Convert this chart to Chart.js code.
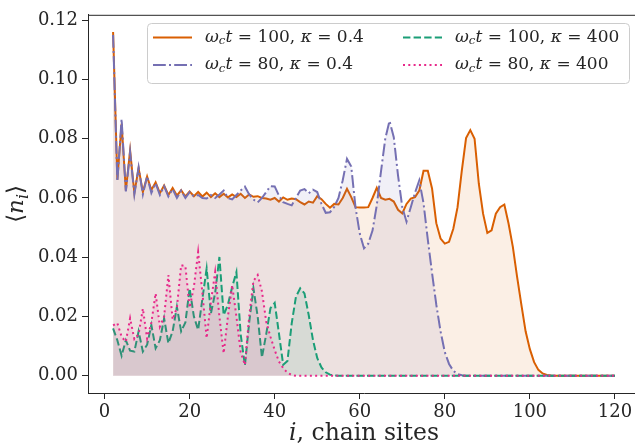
<!DOCTYPE html>
<html>
<head>
<meta charset="utf-8">
<script src="https://cdn.jsdelivr.net/npm/chart.js@4.4.1/dist/chart.umd.min.js"></script>
<style>
  html, body { margin: 0; padding: 0; background: #fff; overflow: hidden; }
  #wrap { position: relative; width: 700px; height: 446px; }
</style>
</head>
<body>
<div id="wrap"><canvas id="densChart"></canvas></div>
<script>
// chain sites i = 2 .. 120
const sites = [2,3,4,5,6,7,8,9,10,11,12,13,14,15,16,17,18,19,20,21,22,23,24,25,26,27,28,29,30,31,
  32,33,34,35,36,37,38,39,40,41,42,43,44,45,46,47,48,49,50,51,52,53,54,55,56,57,58,59,60,61,
  62,63,64,65,66,67,68,69,70,71,72,73,74,75,76,77,78,79,80,81,82,83,84,85,86,87,88,89,90,91,
  92,93,94,95,96,97,98,99,100,101,102,103,104,105,106,107,108,109,110,111,112,113,114,115,116,117,118,119,120];

// <n_i>, wc t = 100, kappa = 0.4
const t100k04 = [0.1160,0.0662,0.0850,0.0625,0.0760,0.0617,0.0700,0.0620,0.0672,0.0627,
  0.0653,0.0616,0.0642,0.0610,0.0634,0.0608,0.0626,0.0605,0.0622,0.0606,
  0.0620,0.0605,0.0618,0.0603,0.0616,0.0603,0.0614,0.0602,0.0612,0.0603,
  0.0614,0.0600,0.0612,0.0604,0.0606,0.0600,0.0598,0.0594,0.0600,0.0588,
  0.0602,0.0594,0.0598,0.0596,0.0586,0.0578,0.0588,0.0584,0.0606,0.0596,
  0.0580,0.0567,0.0580,0.0578,0.0600,0.0631,0.0603,0.0569,0.0568,0.0568,
  0.0569,0.0600,0.0634,0.0600,0.0594,0.0597,0.0588,0.0560,0.0548,0.0580,
  0.0598,0.0603,0.0625,0.0692,0.0692,0.0632,0.0515,0.0463,0.0446,0.0452,
  0.0496,0.0569,0.0692,0.0802,0.0829,0.0800,0.0648,0.0547,0.0482,0.0491,
  0.0547,0.0569,0.0578,0.0513,0.0435,0.0334,0.0240,0.0150,0.0090,0.0046,
  0.0020,0.0008,0.0003,0.0001,0,0,0,0,0,0,
  0,0,0,0,0,0,0,0,0];

// <n_i>, wc t = 80, kappa = 0.4
const t80k04 = [0.1150,0.0655,0.0866,0.0622,0.0755,0.0612,0.0704,0.0612,0.0673,0.0617,
  0.0650,0.0610,0.0640,0.0605,0.0630,0.0600,0.0625,0.0600,0.0620,0.0605,
  0.0610,0.0600,0.0598,0.0610,0.0600,0.0612,0.0625,0.0600,0.0595,0.0610,
  0.0625,0.0638,0.0612,0.0595,0.0585,0.0600,0.0620,0.0640,0.0639,0.0608,
  0.0586,0.0580,0.0575,0.0600,0.0625,0.0630,0.0616,0.0628,0.0620,0.0580,
  0.0550,0.0552,0.0570,0.0600,0.0660,0.0732,0.0706,0.0569,0.0480,0.0430,
  0.0446,0.0490,0.0575,0.0690,0.0800,0.0860,0.0805,0.0676,0.0569,0.0520,
  0.0569,0.0618,0.0659,0.0582,0.0460,0.0347,0.0240,0.0150,0.0080,0.0040,
  0.0017,0.0006,0.0002,0,0,0,0,0,0,0,
  0,0,0,0,0,0,0,0,0,0,
  0,0,0,0,0,0,0,0,0,0,
  0,0,0,0,0,0,0,0,0];

// <n_i>, wc t = 100, kappa = 400
const t100k400 = [0.0160,0.0120,0.0068,0.0120,0.0085,0.0082,0.0150,0.0082,0.0105,0.0171,
  0.0093,0.0120,0.0194,0.0110,0.0150,0.0233,0.0150,0.0180,0.0295,0.0200,
  0.0155,0.0260,0.0362,0.0210,0.0280,0.0401,0.0205,0.0240,0.0300,0.0350,
  0.0140,0.0035,0.0180,0.0295,0.0200,0.0062,0.0140,0.0228,0.0246,0.0143,
  0.0037,0.0050,0.0177,0.0267,0.0295,0.0278,0.0205,0.0121,0.0060,0.0028,
  0.0012,0.0004,0.0001,0,0,0,0,0,0,0,
  0,0,0,0,0,0,0,0,0,0,
  0,0,0,0,0,0,0,0,0,0,
  0,0,0,0,0,0,0,0,0,0,
  0,0,0,0,0,0,0,0,0,0,
  0,0,0,0,0,0,0,0,0,0,
  0,0,0,0,0,0,0,0,0];

// <n_i>, wc t = 80, kappa = 400
const t80k400 = [0.0170,0.0178,0.0132,0.0115,0.0194,0.0124,0.0140,0.0227,0.0126,0.0180,
  0.0278,0.0166,0.0200,0.0340,0.0190,0.0230,0.0373,0.0370,0.0230,0.0300,
  0.0418,0.0280,0.0127,0.0250,0.0350,0.0200,0.0076,0.0200,0.0306,0.0200,
  0.0080,0.0037,0.0200,0.0320,0.0340,0.0285,0.0183,0.0132,0.0087,0.0048,
  0.0026,0.0010,0.0003,0,0,0,0,0,0,0,
  0,0,0,0,0,0,0,0,0,0,
  0,0,0,0,0,0,0,0,0,0,
  0,0,0,0,0,0,0,0,0,0,
  0,0,0,0,0,0,0,0,0,0,
  0,0,0,0,0,0,0,0,0,0,
  0,0,0,0,0,0,0,0,0,0,
  0,0,0,0,0,0,0,0,0];

const xTicks = [0, 20, 40, 60, 80, 100, 120];
const yTicks = [0, 0.02, 0.04, 0.06, 0.08, 0.10, 0.12];

// legend labels as math pieces: r = upright, i = italic, s = italic subscript
const legendLabels = [
  [["ω","i"],["c","s"],["t","i"],[" = 100, ","r"],["κ","i"],[" = 0.4","r"]],
  [["ω","i"],["c","s"],["t","i"],[" = 80, ","r"],["κ","i"],[" = 0.4","r"]],
  [["ω","i"],["c","s"],["t","i"],[" = 100, ","r"],["κ","i"],[" = 400","r"]],
  [["ω","i"],["c","s"],["t","i"],[" = 80, ","r"],["κ","i"],[" = 400","r"]]
];

const SERIF = '"DejaVu Serif", "Liberation Serif", serif';
const INK = "#262626";

function series(vals) {
  return sites.map((x, k) => ({ x: x, y: vals[k] }));
}

function pieceFont(st, size) {
  const sz = st === "s" ? size * 0.7 : size;
  return (st === "r" ? "" : "italic ") + sz + "px " + SERIF;
}

function measureParts(ctx, parts, size) {
  let w = 0;
  for (const [t, st] of parts) { ctx.font = pieceFont(st, size); w += ctx.measureText(t).width; }
  return w;
}

function drawParts(ctx, parts, x, y, size) {
  for (const [t, st] of parts) {
    ctx.font = pieceFont(st, size);
    ctx.fillText(t, x, st === "s" ? y + size * 0.22 : y);
    x += ctx.measureText(t).width;
  }
}

const extras = {
  id: "extras",
  afterDraw(chart) {
    const ctx = chart.ctx;
    const a = chart.chartArea;
    ctx.save();
    // top spine
    ctx.strokeStyle = INK;
    ctx.lineWidth = 1;
    ctx.beginPath();
    ctx.moveTo(a.left, a.top + 0.5);
    ctx.lineTo(a.right, a.top + 0.5);
    ctx.stroke();

    // axis labels
    ctx.fillStyle = INK;
    ctx.textBaseline = "alphabetic";
    const xl = [["i","i"],[", chain sites","r"]];
    const wx = measureParts(ctx, xl, 23.5);
    drawParts(ctx, xl, (a.left + a.right) / 2 - wx / 2, 440, 23.5);

    const yl = [["⟨","r"],["n","i"],["i","s"],["⟩","r"]];
    const wy = measureParts(ctx, yl, 23);
    ctx.save();
    ctx.translate(23, (a.top + a.bottom) / 2);
    ctx.rotate(-Math.PI / 2);
    drawParts(ctx, yl, -wy / 2, 0, 23);
    ctx.restore();

    // legend, two columns
    const bx = 147, by = 23, bw = 482, bh = 60;
    ctx.fillStyle = "rgba(255,255,255,0.8)";
    ctx.strokeStyle = "#cccccc";
    ctx.beginPath();
    ctx.roundRect(bx + 0.5, by + 0.5, bw, bh, 4);
    ctx.fill();
    ctx.stroke();
    const cols = [153, 403];
    const rows = [37.5, 65];
    chart.data.datasets.forEach((ds, k) => {
      const cx = cols[Math.floor(k / 2)];
      const cy = rows[k % 2];
      ctx.strokeStyle = ds.borderColor;
      ctx.lineWidth = ds.borderWidth;
      ctx.setLineDash(ds.borderDash || []);
      ctx.beginPath();
      ctx.moveTo(cx, cy);
      ctx.lineTo(cx + 39, cy);
      ctx.stroke();
      ctx.setLineDash([]);
      ctx.fillStyle = INK;
      ctx.textBaseline = "middle";
      drawParts(ctx, legendLabels[k], cx + 52, cy, 17);
    });
    ctx.restore();
  }
};

const tickFont = { family: SERIF, size: 18 };

new Chart(document.getElementById("densChart"), {
  type: "line",
  data: {
    datasets: [
      { data: series(t100k04), borderColor: "#d95f02", backgroundColor: "rgba(217,95,2,0.1)",
        borderWidth: 2, fill: "origin", order: 4 },
      { data: series(t80k04), borderColor: "#7570b3", backgroundColor: "rgba(117,112,179,0.1)",
        borderWidth: 2, borderDash: [12.8, 3.2, 2, 3.2], fill: "origin", order: 3 },
      { data: series(t100k400), borderColor: "#1b9e77", backgroundColor: "rgba(27,158,119,0.1)",
        borderWidth: 2, borderDash: [7.4, 3.2], fill: "origin", order: 2 },
      { data: series(t80k400), borderColor: "#e7298a", backgroundColor: "rgba(231,41,138,0.1)",
        borderWidth: 2, borderDash: [2, 3.3], fill: "origin", order: 1 }
    ]
  },
  options: {
    responsive: true,
    maintainAspectRatio: false,
    animation: false,
    devicePixelRatio: 1,
    layout: { padding: { left: 0, top: 14, right: 60, bottom: 0 } },
    elements: { point: { radius: 0 }, line: { tension: 0 } },
    plugins: { legend: { display: false }, tooltip: { enabled: false } },
    scales: {
      x: {
        type: "linear", min: -3.9, max: 125.9,
        afterBuildTicks: s => { s.ticks = xTicks.map(v => ({ value: v })); },
        afterFit: s => { s.height = 53; },
        grid: { display: true, drawOnChartArea: false, drawTicks: true, tickLength: 6, color: INK },
        border: { display: true, color: INK, width: 1 },
        ticks: { color: INK, font: tickFont, padding: 3, maxRotation: 0, autoSkip: false }
      },
      y: {
        min: -0.0058, max: 0.1218,
        afterBuildTicks: s => { s.ticks = yTicks.map(v => ({ value: v })); },
        afterFit: s => { s.width = 88; },
        grid: { display: true, drawOnChartArea: false, drawTicks: true, tickLength: 6, color: INK },
        border: { display: true, color: INK, width: 1 },
        ticks: { color: INK, font: tickFont, padding: 4, callback: v => v.toFixed(2) }
      }
    }
  },
  plugins: [extras]
});
</script>
</body>
</html>
